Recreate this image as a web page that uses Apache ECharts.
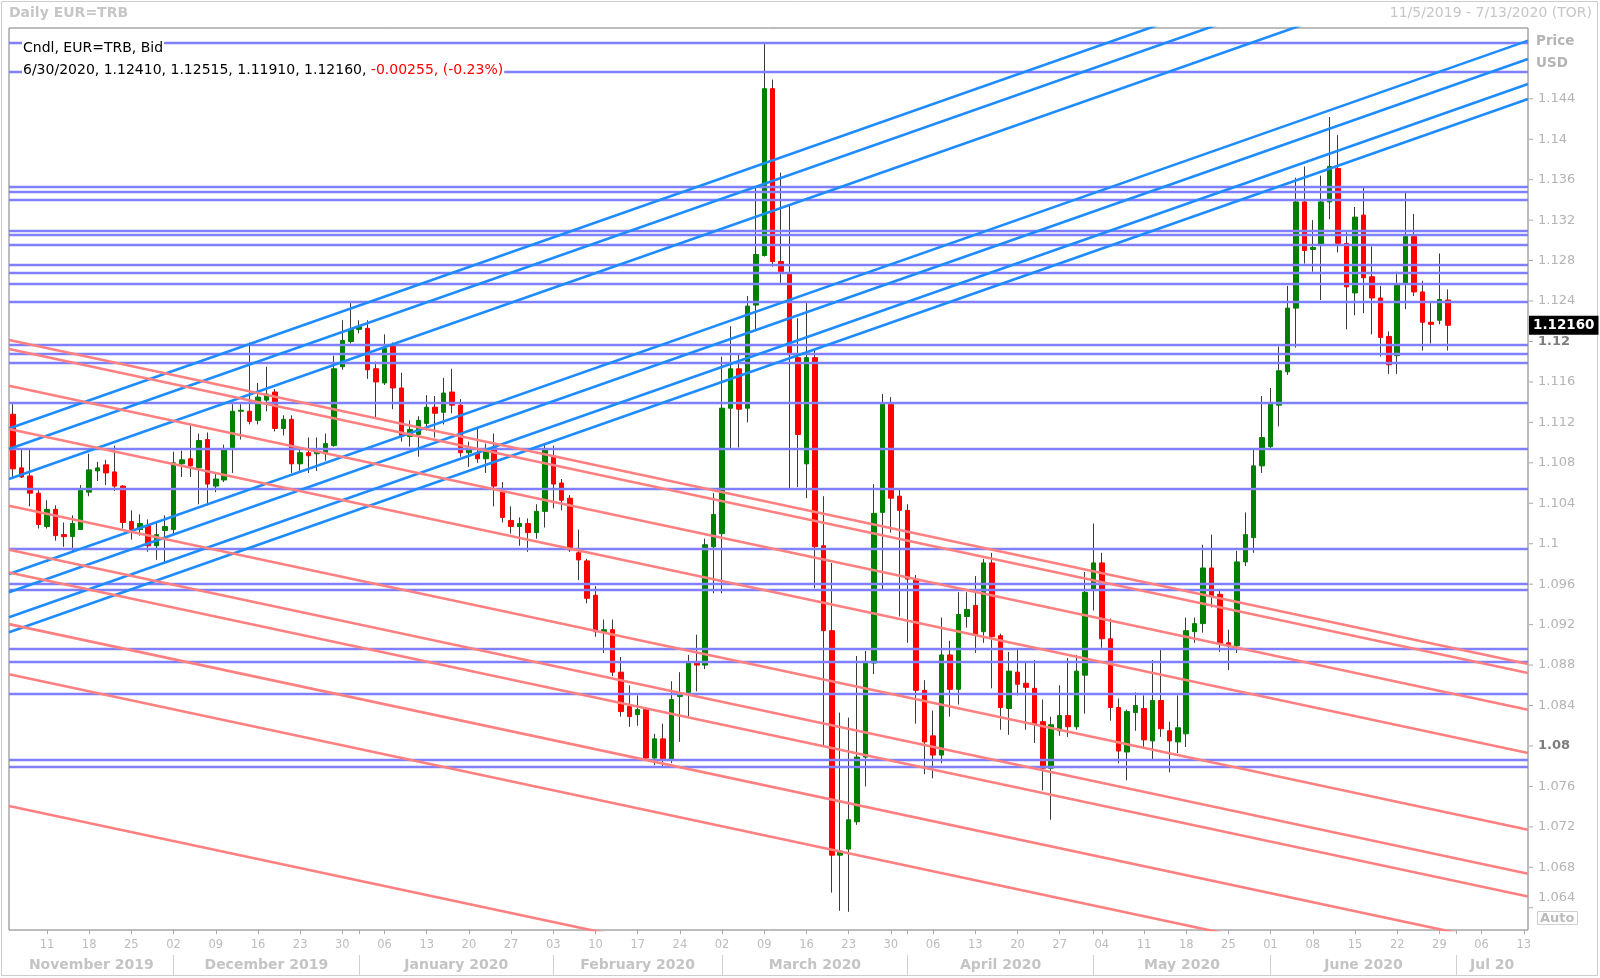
<!DOCTYPE html>
<html><head><meta charset="utf-8">
<script src="https://cdn.jsdelivr.net/npm/echarts@6/dist/echarts.min.js"></script>
<style>html,body{margin:0;padding:0;background:#fff}#c{width:1600px;height:978px}</style>
</head><body><div id="c"></div>
<script>
// ---------------- DATA ----------------
const firstDay = '2019-11-05';
const lastDay = '2020-07-13';

const open = [
1.1128,1.1075,1.1067,1.1050,1.1017,1.1034,1.1009,1.1007,1.1014,1.1051,
1.1072,1.1078,1.1071,1.1057,1.1022,1.1014,1.1018,1.0998,1.1013,1.1014,
1.1079,1.1084,1.1075,1.1103,1.1057,1.1063,1.1095,1.1131,1.1131,1.1122,
1.1142,1.1150,1.1114,1.1123,1.1079,1.1090,1.1089,1.1089,1.1097,1.1175,
1.1200,1.1212,1.1213,1.1173,1.1159,1.1197,1.1154,1.1106,1.1108,1.1119,
1.1135,1.1130,1.1150,1.1137,1.1090,1.1090,1.1084,1.1095,1.1051,1.1023,
1.1017,1.1020,1.1011,1.1032,1.1087,1.1060,1.1045,1.0991,1.0983,1.0949,
1.0913,1.0915,1.0873,1.0839,1.0831,1.0836,1.0788,1.0807,1.0786,1.0849,
1.0853,1.0882,1.0880,1.0997,1.1010,1.1134,1.1173,1.1134,1.1236,1.1285,
1.1450,1.1279,1.1268,1.1184,1.1079,1.1184,1.0998,1.0914,1.0692,1.0698,
1.0725,1.0789,1.0882,1.1031,1.1138,1.1047,1.1033,1.0965,1.0855,1.0810,
1.0791,1.0890,1.0856,1.0928,1.0939,1.0913,1.0981,1.0909,1.0837,1.0873,
1.0862,1.0857,1.0824,1.0778,1.0815,1.0830,1.0819,1.0870,1.0954,1.0981,
1.0906,1.0838,1.0794,1.0833,1.0837,1.0805,1.0845,1.0815,1.0804,1.0812,
1.0913,1.0921,1.0976,1.0950,1.0902,1.0899,1.0982,1.1006,1.1077,1.1096,
1.1137,1.1170,1.1233,1.1338,1.1291,1.1296,1.1338,1.1371,1.1297,1.1248,
1.1325,1.1264,1.1243,1.1205,1.1186,1.1257,1.1304,1.1249,1.1219,1.1221,
1.12410];
const high = [
1.1138,1.1093,1.1093,1.1053,1.1043,1.1038,1.1021,1.1028,1.1058,1.1089,
1.1081,1.1083,1.1097,1.1058,1.1033,1.1029,1.1024,1.1021,1.1028,1.1091,
1.1092,1.1117,1.1109,1.1110,1.1071,1.1098,1.1138,1.1138,1.1199,1.1159,
1.1175,1.1153,1.1127,1.1127,1.1093,1.1105,1.1105,1.1109,1.1186,1.1221,
1.1238,1.1221,1.1221,1.1180,1.1207,1.1199,1.1169,1.1122,1.1126,1.1147,
1.1146,1.1164,1.1173,1.1143,1.1101,1.1114,1.1099,1.1109,1.1061,1.1037,
1.1026,1.1025,1.1039,1.1098,1.1097,1.1064,1.1048,1.1014,1.0985,1.0958,
1.0925,1.0925,1.0888,1.0860,1.0850,1.0838,1.0812,1.0822,1.0864,1.0873,
1.0890,1.0910,1.1005,1.1050,1.1185,1.1215,1.1187,1.1245,1.1353,1.1495,
1.1459,1.1367,1.1334,1.1223,1.1238,1.1192,1.1047,1.0981,1.0833,1.0828,
1.0889,1.0894,1.1059,1.1148,1.1145,1.1054,1.1039,1.0969,1.0865,1.0835,
1.0927,1.0904,1.0952,1.0952,1.0968,1.0985,1.0991,1.0911,1.0893,1.0895,
1.0883,1.0885,1.0846,1.0829,1.0860,1.0887,1.0890,1.0972,1.1020,1.0991,
1.0926,1.0847,1.0836,1.0853,1.0850,1.0885,1.0895,1.0824,1.0850,1.0927,
1.0927,1.0999,1.1009,1.0955,1.0915,1.0993,1.1031,1.1093,1.1146,1.1154,
1.1195,1.1255,1.1362,1.1373,1.1320,1.1364,1.1422,1.1404,1.1308,1.1333,
1.1352,1.1294,1.1255,1.1210,1.1269,1.1347,1.1326,1.1260,1.1240,1.1287,
1.12515];
const low = [
1.1066,1.1065,1.1037,1.1015,1.1015,1.1003,1.0997,1.0992,1.1014,1.1047,
1.1062,1.1058,1.1052,1.1015,1.1004,1.1008,1.0992,1.0984,1.0982,1.1009,
1.1066,1.1066,1.1039,1.1039,1.1051,1.1061,1.1070,1.1103,1.1118,1.1118,
1.1131,1.1111,1.1107,1.1070,1.1072,1.1070,1.1072,1.1082,1.1096,1.1172,
1.1198,1.1208,1.1163,1.1125,1.1157,1.1133,1.1101,1.1096,1.1086,1.1112,
1.1105,1.1118,1.1129,1.1086,1.1076,1.1080,1.1070,1.1037,1.1021,1.1010,
1.0998,1.0992,1.1005,1.1016,1.1035,1.1033,1.0992,1.0964,1.0941,1.0908,
1.0892,1.0869,1.0829,1.0819,1.0820,1.0786,1.0781,1.0779,1.0783,1.0804,
1.0829,1.0854,1.0876,1.0951,1.0951,1.1094,1.1095,1.1120,1.1210,1.1284,
1.1274,1.1258,1.1055,1.1056,1.1045,1.0956,1.0801,1.0655,1.0637,1.0636,
1.0722,1.0760,1.0871,1.0955,1.1011,1.0928,1.0902,1.0822,1.0772,1.0768,
1.0783,1.0829,1.0841,1.0917,1.0892,1.0902,1.0857,1.0816,1.0811,1.0850,
1.0816,1.0803,1.0756,1.0727,1.0810,1.0809,1.0816,1.0832,1.0934,1.0897,
1.0825,1.0783,1.0766,1.0815,1.0799,1.0786,1.0809,1.0774,1.0793,1.0799,
1.0902,1.0912,1.0937,1.0893,1.0875,1.0892,1.0978,1.0991,1.1070,1.1094,
1.1116,1.1167,1.1194,1.1277,1.1269,1.1241,1.1321,1.1288,1.1212,1.1226,
1.1228,1.1207,1.1185,1.1168,1.1168,1.1232,1.1245,1.1191,1.1198,1.1217,
1.11910];
const close = [
1.1074,1.1066,1.1050,1.1019,1.1034,1.1008,1.1007,1.1020,1.1053,1.1073,
1.1075,1.1070,1.1057,1.1021,1.1014,1.1020,1.0998,1.1009,1.1017,1.1080,
1.1083,1.1077,1.1102,1.1059,1.1064,1.1093,1.1131,1.1132,1.1121,1.1145,
1.1148,1.1114,1.1123,1.1079,1.1090,1.1087,1.1091,1.1099,1.1173,1.1201,
1.1212,1.1215,1.1172,1.1160,1.1193,1.1154,1.1107,1.1113,1.1122,1.1135,
1.1129,1.1149,1.1137,1.1090,1.1094,1.1084,1.1091,1.1057,1.1026,1.1017,
1.1020,1.1011,1.1032,1.1093,1.1059,1.1043,1.0994,1.0984,1.0946,1.0913,
1.0915,1.0873,1.0834,1.0829,1.0836,1.0788,1.0807,1.0786,1.0846,1.0851,
1.0882,1.0880,1.0999,1.1029,1.1134,1.1173,1.1133,1.1235,1.1286,1.1450,
1.1279,1.1269,1.1187,1.1108,1.1184,1.0997,1.0914,1.0692,1.0696,1.0727,
1.0789,1.0882,1.1030,1.1138,1.1045,1.1033,1.0965,1.0855,1.0804,1.0791,
1.0890,1.0856,1.0930,1.0935,1.0910,1.0981,1.0908,1.0838,1.0874,1.0861,
1.0858,1.0822,1.0778,1.0821,1.0830,1.0819,1.0874,1.0952,1.0981,1.0906,
1.0838,1.0795,1.0834,1.0840,1.0806,1.0845,1.0817,1.0805,1.0818,1.0914,
1.0921,1.0976,1.0948,1.0901,1.0900,1.0982,1.1009,1.1077,1.1105,1.1138,
1.1171,1.1233,1.1338,1.1290,1.1293,1.1338,1.1373,1.1297,1.1254,1.1323,
1.1263,1.1243,1.1204,1.1177,1.1257,1.1304,1.1249,1.1219,1.1217,1.12415,
1.12160];

// horizontal support/resistance levels
const hLevels = [1.14954,1.14671,1.13532,1.13477,1.13403,1.13095,1.13058,1.12960,1.12763,1.12677,
  1.12566,1.12394,1.11963,1.11883,1.11791,1.11391,1.10942,1.10548,1.09951,1.09600,
  1.09545,1.08966,1.08831,1.08517,1.07865,1.07791];
// rising trend lines: price at left edge / right edge of the plot
const blueLeft  = [1.1114, 1.10937, 1.10640, 1.09701, 1.09520, 1.09272, 1.09124];
const blueRight = [1.16414,1.16211, 1.15914, 1.14975, 1.14794, 1.14546, 1.14398];
// falling trend lines
const redLeft  = [1.12014,1.11925,1.11562,1.11134,1.10375,1.09940,1.09715,1.09205,1.08710,1.07407];
const redRight = [1.08810,1.08721,1.08358,1.07930,1.07171,1.06736,1.06511,1.06001,1.05506,1.04203];

const yTicks = [1.064,1.068,1.072,1.076,1.08,1.084,1.088,1.092,1.096,1.1,1.104,1.108,1.112,1.116,1.12,1.124,1.128,1.132,1.136,1.14,1.144];
const boldTicks = [1.12, 1.08];
const monthNames = ['November 2019','December 2019','January 2020','February 2020','March 2020','April 2020','May 2020','June 2020','Jul 20'];
const yMin = 1.0618, yMax = 1.1510;

// ---------------- BUILD ----------------
const dates = [];
for (let d = new Date(firstDay + 'T00:00:00Z'); d <= new Date(lastDay + 'T00:00:00Z'); d.setUTCDate(d.getUTCDate() + 1)) {
  const w = d.getUTCDay();
  if (w === 0 || w === 6) continue;
  dates.push(d.toISOString().slice(0, 10));
}
const N = dates.length;
const monthStarts = [];
dates.forEach((d, i) => { if (i > 0 && d.slice(5, 7) !== dates[i - 1].slice(5, 7)) monthStarts.push(i); });
const bounds = [-0.5, ...monthStarts, N - 0.5];
const monthMids = bounds.slice(0, -1).map((b, k) => (b + bounds[k + 1]) / 2);
const isMonday = v => new Date(v + 'T00:00:00Z').getUTCDay() === 1;

const ohlc = open.map((o, i) => [o, close[i], low[i], high[i]]);
const bodies = open.map((o, i) => [o, close[i], Math.min(o, close[i]), Math.max(o, close[i])]);

const last = open.length - 1;
const ld = dates[last].split('-');
const lastDateStr = (+ld[1]) + '/' + (+ld[2]) + '/' + ld[0];
const chg = close[last] - close[last - 1];
const pct = chg / close[last - 1] * 100;
const legendBlack = lastDateStr + ', ' + open[last].toFixed(5) + ', ' + high[last].toFixed(5) + ', ' + low[last].toFixed(5) + ', ' + close[last].toFixed(5) + ', ';
const legendRed = chg.toFixed(5) + ', (' + pct.toFixed(2) + '%)';

const FONT = 'DejaVu Sans';

const series = [
  { // wicks
    type: 'candlestick', xAxisIndex: 0, yAxisIndex: 0, data: ohlc, barWidth: 1, z: 2,
    itemStyle: { color: '#3a3a3a', color0: '#3a3a3a', borderColor: '#3a3a3a', borderColor0: '#3a3a3a', borderWidth: 1 },
    silent: true
  },
  { // bodies
    type: 'candlestick', xAxisIndex: 0, yAxisIndex: 0, data: bodies, barWidth: 5, z: 3,
    itemStyle: { color: '#008000', color0: '#ff0000', borderColor: '#008000', borderColor0: '#ff0000', borderWidth: 1 },
    silent: true
  },
  { // horizontal levels + last price tag
    type: 'line', xAxisIndex: 1, yAxisIndex: 0, data: [], z: 4, silent: true,
    markLine: {
      silent: true, symbol: 'none', animation: false, precision: 6,
      label: { show: false },
      lineStyle: { color: '#8080ff', width: 2.4, type: 'solid' },
      data: hLevels.map(v => ({ yAxis: v })).concat([{
        yAxis: close[last],
        lineStyle: { color: 'rgba(0,0,0,0)', width: 0 },
        label: { show: true, position: 'end', distance: 1, formatter: close[last].toFixed(5),
          backgroundColor: '#000', color: '#fff', fontFamily: FONT, fontWeight: 'bold', fontSize: 13.5, padding: [3, 4, 2, 4] }
      }])
    }
  }
];
blueLeft.forEach((l, k) => series.push({
  type: 'line', xAxisIndex: 1, yAxisIndex: 0, z: 5, silent: true, symbol: 'none', clip: true,
  lineStyle: { color: '#1e8cff', width: 2.6 },
  data: [[-0.5, l], [N - 0.5, blueRight[k]]]
}));
redLeft.forEach((l, k) => series.push({
  type: 'line', xAxisIndex: 1, yAxisIndex: 0, z: 5, silent: true, symbol: 'none', clip: true,
  lineStyle: { color: '#ff8080', width: 2.6 },
  data: [[-0.5, l], [N - 0.5, redRight[k]]]
}));

const option = {
  animation: false,
  backgroundColor: '#fff',
  grid: { left: 9, top: 28, width: 1519, height: 902, show: true, borderColor: '#7a7a7a', borderWidth: 1, backgroundColor: 'transparent' },
  title: [
    { text: 'Daily EUR=TRB', left: 9, top: 6, padding: 0, textStyle: { fontFamily: FONT, fontSize: 14, fontWeight: 'bold', color: '#c6c6c6' } },
    { text: '11/5/2019 - 7/13/2020 (TOR)', right: 8, top: 6, padding: 0, textStyle: { fontFamily: FONT, fontSize: 14, fontWeight: 'normal', color: '#c6c6c6' } },
    { text: 'Cndl, EUR=TRB, Bid', left: 22, top: 40, padding: [0, 1], backgroundColor: '#fff', textStyle: { fontFamily: FONT, fontSize: 14, fontWeight: 'normal', color: '#000', lineHeight: 16 } },
    { text: '{k|' + legendBlack + '}{r|' + legendRed + '}', left: 22, top: 62, padding: [0, 1], backgroundColor: '#fff',
      textStyle: { fontFamily: FONT, fontSize: 14, fontWeight: 'normal', lineHeight: 16,
        rich: { k: { color: '#000', fontFamily: FONT, fontSize: 14 }, r: { color: '#ff0000', fontFamily: FONT, fontSize: 14 } } } },
    { text: 'Price\nUSD', left: 1536, top: 30, padding: 0, textStyle: { fontFamily: FONT, fontSize: 13.5, fontWeight: 'bold', color: '#b4b4b4', lineHeight: 22 } },
    { text: 'Auto', left: 1537, top: 911, padding: [1, 3, 0, 3], borderColor: '#d0d0d0', borderWidth: 1, textStyle: { fontFamily: FONT, fontSize: 13, fontWeight: 'bold', color: '#bcbcbc' } }
  ],
  xAxis: [
    { type: 'category', data: dates, boundaryGap: true, position: 'bottom',
      axisLine: { show: false },
      axisTick: { show: true, alignWithLabel: true, length: 4, interval: (i, v) => isMonday(v) || monthStarts.indexOf(i) >= 0, lineStyle: { color: '#a8a8a8' } },
      axisLabel: { interval: (i, v) => isMonday(v), formatter: v => v.slice(8, 10), color: '#bcbcbc', fontFamily: FONT, fontSize: 11.5, margin: 9 },
      splitLine: { show: false } },
    { type: 'value', min: -0.5, max: N - 0.5, show: false },
    { type: 'value', min: -0.5, max: N - 0.5, position: 'bottom', offset: 25,
      axisLine: { show: false }, splitLine: { show: false },
      axisTick: { show: true, customValues: monthStarts, length: 20, lineStyle: { color: '#d0d0d0' } },
      axisLabel: { customValues: monthMids, formatter: v => { const k = monthMids.findIndex(m => Math.abs(m - v) < 1e-6); return k >= 0 ? monthNames[k] : ''; },
        color: '#c4c4c4', fontFamily: FONT, fontSize: 14, fontWeight: 'bold', margin: 3 } }
  ],
  yAxis: [
    { type: 'value', position: 'right', min: yMin, max: yMax,
      axisLine: { show: false }, splitLine: { show: false },
      axisTick: { show: false },
      axisLabel: { customValues: yTicks, margin: 1, color: '#b4b4b4', fontFamily: FONT, fontSize: 13,
        formatter: v => {
          const s = String(parseFloat(v.toFixed(4)));
          if (boldTicks.some(b => Math.abs(b - v) < 1e-7)) return '{t| }{b|' + s + '}';
          if (Math.abs(v - yTicks[0]) < 1e-7) return '{t| }{lo|' + s + '}';
          return '{t| }{n|' + s + '}';
        },
        rich: { t: { width: 4, height: 1, lineHeight: 1, fontSize: 1, backgroundColor: '#a8a8a8' },
                n: { color: '#b4b4b4', fontFamily: FONT, fontSize: 13, padding: [0, 0, 0, 5] },
                b: { fontWeight: 'bold', color: '#7c7c7c', fontFamily: FONT, fontSize: 13, padding: [0, 0, 0, 5] },
                lo: { color: '#b4b4b4', fontFamily: FONT, fontSize: 13, padding: [0, 0, 20, 5] } } } }
  ],
  graphic: [
    { type: 'rect', silent: true, z: 0, shape: { x: 1.5, y: 1.5, width: 1596, height: 974 }, style: { fill: 'none', stroke: '#cdcdcd', lineWidth: 1 } }
  ],
  series: series
};

const chart = echarts.init(document.getElementById('c'), null, { renderer: 'canvas', width: 1600, height: 978 });
chart.setOption(option);
</script>
</body></html>
